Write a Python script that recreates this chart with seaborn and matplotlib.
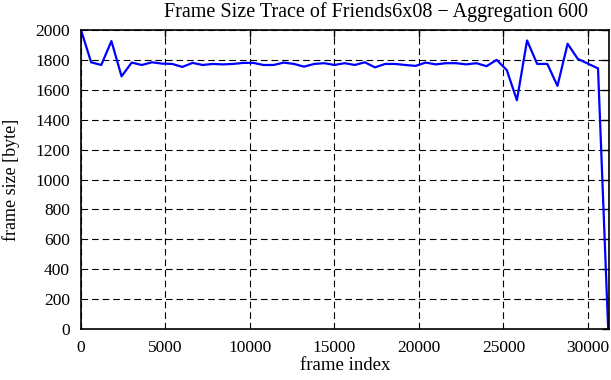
import matplotlib
matplotlib.use("Agg")
import matplotlib.pyplot as plt
import seaborn as sns
import pandas as pd

frame_index = [i * 600 for i in range(53)]
frame_size = [2000, 1784, 1766, 1926, 1690, 1782, 1766, 1784, 1775, 1773,
              1753, 1780, 1766, 1773, 1770, 1773, 1780, 1780, 1766, 1766,
              1782, 1773, 1755, 1773, 1778, 1766, 1778, 1766, 1784, 1750,
              1773, 1773, 1766, 1760, 1782, 1770, 1778, 1778, 1770, 1778,
              1758, 1800, 1732, 1530, 1930, 1773, 1773, 1626, 1908, 1807,
              1775, 1743, 0]

df = pd.DataFrame({"frame index": frame_index, "frame size [byte]": frame_size})

sns.set_theme(style="white")
plt.rcParams['font.family'] = ['Liberation Serif', 'DejaVu Serif']

fig = plt.figure(figsize=(6.11, 3.80), dpi=100)
ax = fig.add_axes([81/611, 1 - 329/380, (609 - 81)/611, (329 - 30)/380])

sns.lineplot(data=df, x="frame index", y="frame size [byte]", ax=ax,
             color="#0000ff", linewidth=1.6)

ax.set_xlim(0, 31250)
ax.set_ylim(0, 2000)
ax.set_xticks(range(0, 30001, 5000))
ax.set_yticks(range(0, 2001, 200))
ax.grid(True, color="black", linestyle=(0, (6, 3.5)), linewidth=0.8)
for s in ax.spines.values():
    s.set_color("black")
    s.set_linewidth(1.2)
ax.tick_params(direction="in", length=5, width=1, colors="black",
               top=True, right=True, labelsize=12.5, pad=8)
ax.set_xlabel("frame index", fontsize=13.5, color="black", labelpad=1)
ax.set_ylabel("frame size [byte]", fontsize=13, color="black", labelpad=11)
ax.set_title("Frame Size Trace of Friends6x08 \u2212 Aggregation 600",
             fontsize=14.5, color="black", pad=9, x=0.559)

fig.savefig("out.png", dpi=100)
